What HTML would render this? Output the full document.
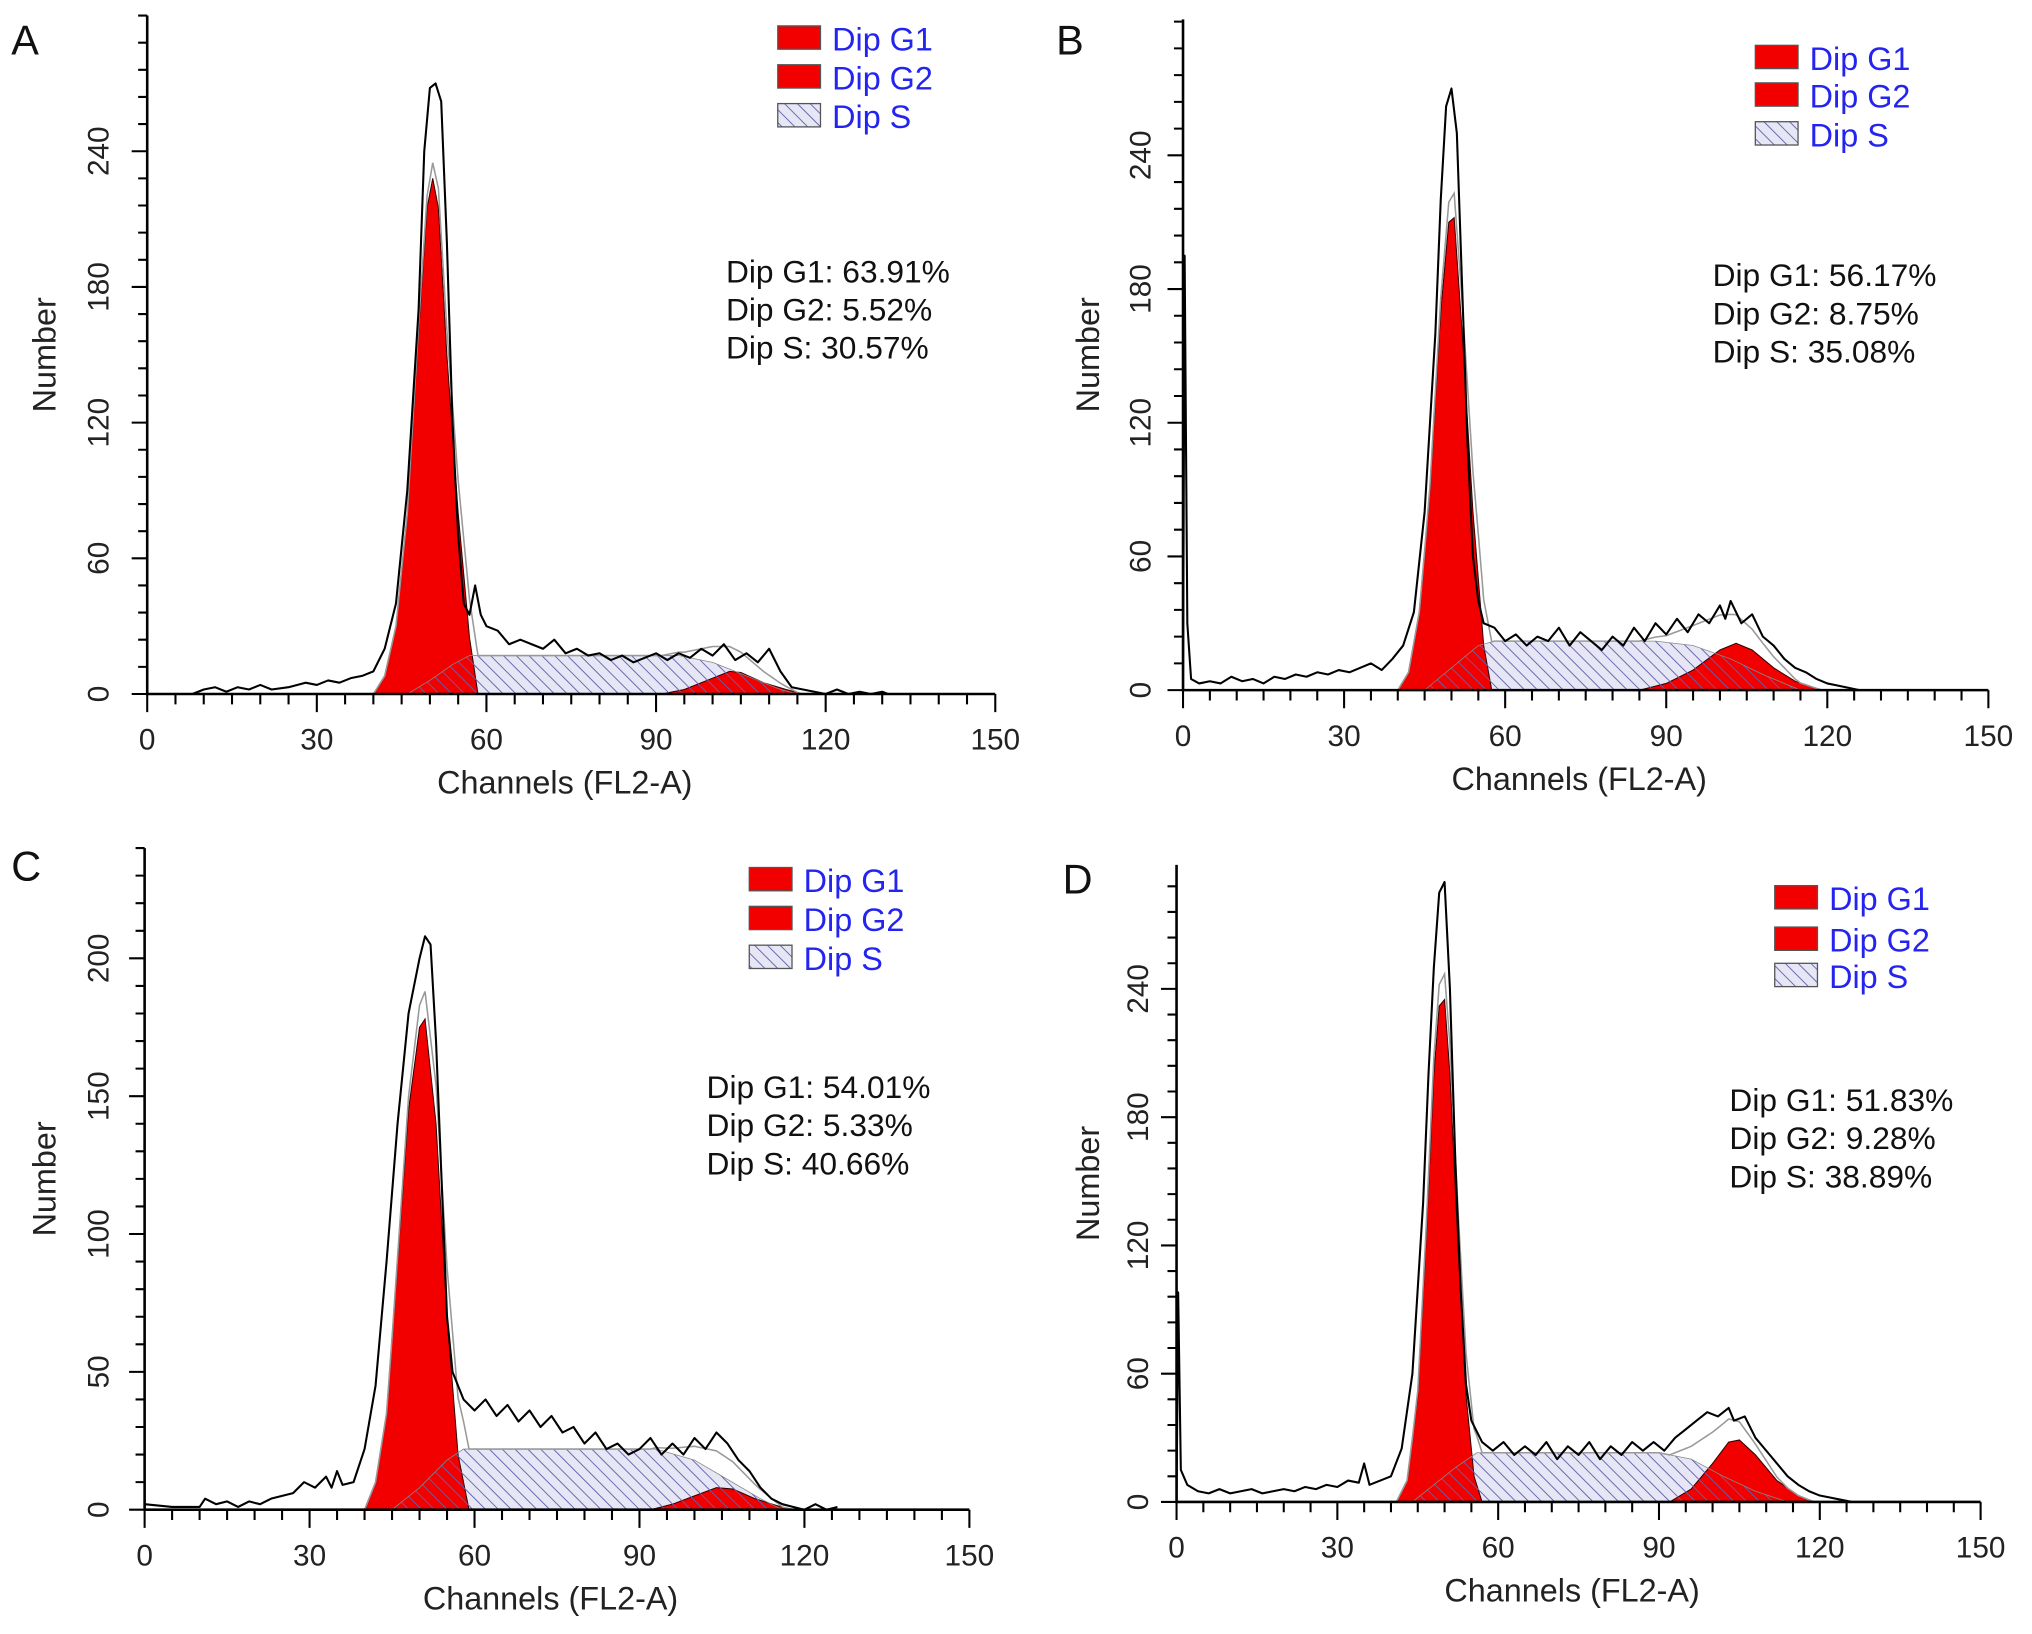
<!DOCTYPE html>
<html><head><meta charset="utf-8"><style>
html,body{margin:0;padding:0;background:#fff;}
svg{display:block;font-family:"Liberation Sans",Arial,sans-serif;}
</style></head><body>
<svg id="fig" width="2032" height="1634" viewBox="0 0 1568 1262" xmlns="http://www.w3.org/2000/svg">
<defs>
<pattern id="hatch" patternUnits="userSpaceOnUse" width="7" height="7" patternTransform="rotate(-45)">
<line x1="0" y1="0" x2="0" y2="7" stroke="#6060b0" stroke-width="1.4"/>
</pattern>
<pattern id="hatchbg" patternUnits="userSpaceOnUse" width="7" height="7" patternTransform="rotate(-45)">
<rect width="7" height="7" fill="#e6e6f4"/>
<line x1="0" y1="0" x2="0" y2="7" stroke="#6060b0" stroke-width="1.4"/>
</pattern>
</defs>
</svg>
<script>
// ---- data: raw histogram (channel, count) ----
const rawA=[[8,0],[10,2],[12,3],[14,1],[16,3],[18,2],[20,4],[22,2],[25,3],[28,5],[30,4],[32,6],[34,5],[36,7],[38,8],[40,10],[42,20],[44,40],[46,90],[48,170],[49,240],[50,268],[51,270],[52,262],[53,200],[54,120],[55,70],[56,40],[57,35],[58,48],[59,35],[60,30],[62,28],[64,22],[66,24],[68,22],[70,20],[72,24],[74,18],[76,20],[78,17],[80,18],[82,15],[84,17],[86,14],[88,16],[90,18],[92,15],[94,18],[96,16],[98,20],[100,17],[102,22],[104,15],[106,18],[108,14],[110,20],[112,10],[114,3],[116,2],[118,1],[120,0],[122,2],[124,0],[126,1],[128,0],[130,1],[131,0]];
const rawB=[[0,0],[0.3,195],[0.8,30],[1.5,5],[3,3],[5,4],[7,3],[9,6],[11,4],[13,5],[15,3],[17,6],[19,5],[21,7],[23,6],[25,8],[27,7],[29,9],[31,8],[33,10],[35,12],[37,9],[39,14],[41,20],[43,35],[45,80],[47,160],[48,220],[49,262],[50,270],[51,250],[52,180],[53,110],[54,60],[55,40],[56,30],[58,28],[60,22],[62,25],[64,20],[66,24],[68,22],[70,28],[72,20],[74,26],[76,22],[78,18],[80,24],[82,20],[84,28],[86,22],[88,30],[90,25],[92,32],[94,26],[96,34],[98,30],[100,38],[101,32],[102,40],[104,30],[106,34],[108,24],[110,20],[112,14],[114,10],[116,8],[118,5],[120,3],[122,2],[124,1],[126,0]];
const rawC=[[0,2],[5,1],[10,1],[11,4],[13,2],[15,3],[17,1],[19,3],[21,2],[23,4],[25,5],[27,6],[29,10],[31,8],[33,12],[34,8],[35,14],[36,9],[38,10],[40,22],[42,45],[44,90],[46,140],[48,180],[50,200],[51,208],[52,205],[53,170],[54,120],[55,70],[56,50],[58,40],[60,36],[62,40],[64,34],[66,38],[68,32],[70,36],[72,30],[74,34],[76,28],[78,30],[80,24],[82,28],[84,22],[86,24],[88,20],[90,22],[92,26],[94,20],[96,24],[98,20],[100,26],[102,22],[104,28],[106,24],[108,18],[110,14],[112,8],[114,4],[116,2],[118,1],[120,0],[122,2],[124,0],[126,1]];
const rawD=[[0,0],[0.3,98],[0.8,15],[2,8],[4,5],[6,4],[8,6],[10,4],[12,5],[14,6],[16,4],[18,5],[20,6],[22,5],[24,7],[26,6],[28,8],[30,7],[32,10],[34,9],[35,18],[36,8],[38,10],[40,12],[42,25],[44,60],[46,140],[47,200],[48,250],[49,285],[50,290],[51,240],[52,160],[53,100],[54,55],[55,38],[57,28],[59,24],[61,28],[63,22],[65,26],[67,22],[69,28],[71,20],[73,26],[75,22],[77,28],[79,20],[81,26],[83,22],[85,28],[87,24],[89,28],[91,24],[93,30],[95,34],[97,38],[99,42],[101,40],[103,44],[104,38],[106,40],[108,30],[110,24],[112,18],[114,12],[116,8],[118,5],[120,3],[122,2],[124,1],[126,0]];
// ---- model components ----
const g1A=[[40,0],[42,8],[44,30],[46,80],[48,160],[49.5,215],[50.5,228],[51.5,215],[53,150],[55,80],[57,25],[58.5,0]];
const sA=[[46,0],[50,6],[54,13],[57,17],[94,17],[100,14],[106,8],[112,2],[115,0]];
const g2A=[[91,0],[95,2],[99,6],[103,10],[105,9.5],[109,5],[113,2],[116,0]];
const g1B=[[40,0],[42,8],[44,35],[46,90],[48,170],[49.5,210],[50.5,212],[52,160],[54,80],[56,20],[57.5,0]];
const sB=[[45,0],[50,10],[55,20],[58,22],[88,22],[95,20],[102,14],[108,7],[115,0]];
const g2B=[[85,0],[90,3],[95,9],[100,18],[103,21],[106,18],[110,10],[114,4],[119,0]];
const g1C=[[40,0],[42,10],[44,35],[46,90],[48,145],[50,175],[51,178],[53,140],[55,70],[57,20],[59,0]];
const sC=[[45,0],[50,8],[55,18],[58,22],[93,22],[100,18],[106,11],[112,4],[116,0]];
const g2C=[[92,0],[96,2],[100,5],[104,8],[107,7.5],[111,4],[115,1.5],[118,0]];
const g1D=[[41,0],[43,10],[45,50],[46.5,120],[48,200],[49,232],[50,235],[51,200],[52.5,120],[54,50],[55.5,12],[57,0]];
const sD=[[44,0],[48,8],[52,16],[56,23],[90,23],[96,20],[102,12],[108,5],[114,0]];
const g2D=[[92,0],[96,6],[100,18],[103,28],[105,29],[108,22],[112,10],[116,3],[119,0]];
// ---- labels ----
const xTicks=[0,30,60,90,120,150];
const yTicksABD=[0,60,120,180,240];
const yTicksC=[0,50,100,150,200];
const statsA=["Dip G1: 63.91%","Dip G2: 5.52%","Dip S: 30.57%"];
const statsB=["Dip G1: 56.17%","Dip G2: 8.75%","Dip S: 35.08%"];
const statsC=["Dip G1: 54.01%","Dip G2: 5.33%","Dip S: 40.66%"];
const statsD=["Dip G1: 51.83%","Dip G2: 9.28%","Dip S: 38.89%"];
const legendLabels=["Dip G1","Dip G2","Dip S"];

const NS="http://www.w3.org/2000/svg";
const svg=document.getElementById('fig');
function mk(tag,attrs,parent){const e=document.createElementNS(NS,tag);for(const k in attrs)e.setAttribute(k,attrs[k]);(parent||svg).appendChild(e);return e;}
function interp(arr,x){if(x<=arr[0][0]||x>=arr[arr.length-1][0])return 0;for(let i=1;i<arr.length;i++){if(x<=arr[i][0]){const a=arr[i-1],b=arr[i];return a[1]+(b[1]-a[1])*(x-a[0])/(b[0]-a[0]);}}return 0;}

const panels=[
 {id:'a',letter:'A',lx:8,ly:42,x0:113,x1:768,y0:536,top:12,ymax:300,ticks:yTicksABD,minor:12,raw:rawA,g1:g1A,s:sA,g2:g2A,stats:statsA,sx:560,sy:218,legx:600,legy:[20,50,80],ylab:75,ntx:42},
 {id:'b',letter:'B',lx:815,ly:42,x0:913,x1:1535,y0:533,top:15,ymax:301,ticks:yTicksABD,minor:12,raw:rawB,g1:g1B,s:sB,g2:g2B,stats:statsB,sx:1322,sy:221,legx:1355,legy:[35,64,94],ylab:880,ntx:848},
 {id:'c',letter:'C',lx:8,ly:680,x0:111,x1:748,y0:1166,top:655,ymax:240,ticks:yTicksC,minor:10,raw:rawC,g1:g1C,s:sC,g2:g2C,stats:statsC,sx:545,sy:848,legx:578,legy:[670,700,730],ylab:75,ntx:42},
 {id:'d',letter:'D',lx:820,ly:690,x0:908,x1:1529,y0:1160,top:668,ymax:298,ticks:yTicksABD,minor:12,raw:rawD,g1:g1D,s:sD,g2:g2D,stats:statsD,sx:1335,sy:858,legx:1370,legy:[684,716,744],ylab:878,ntx:848}
];

panels.forEach(p=>{
 const g=mk('g',{});
 
 
 const X=v=>p.x0+(p.x1-p.x0)*v/150;
 const Y=v=>p.y0-(p.y0-p.top)*v/p.ymax;
 const area=(arr)=>{let d='M'+X(arr[0][0])+','+Y(0);arr.forEach(q=>d+=' L'+X(q[0]).toFixed(2)+','+Y(q[1]).toFixed(2));d+=' L'+X(arr[arr.length-1][0])+','+Y(0)+' Z';return d;};
 const sbg=mk('path',{d:area(p.s),fill:'#e6e6f4',stroke:'none'},g);
 
 
 const g1=mk('path',{d:area(p.g1),fill:'#f20000',stroke:'#300',"stroke-width":0.8},g);
 
 
 const g2=mk('path',{d:area(p.g2),fill:'#f20000',stroke:'#300',"stroke-width":0.8},g);
 
 
 const s=mk('path',{d:area(p.s),fill:'url(#hatch)',stroke:'#888',"stroke-width":0.6},g);
 
 
 let lo=Math.min(p.g1[0][0],p.s[0][0]),hi=Math.max(p.g2[p.g2.length-1][0],p.s[p.s.length-1][0]);
 let fd='';for(let x=lo;x<=hi;x+=0.5){const v=interp(p.g1,x)+interp(p.s,x)+interp(p.g2,x);fd+=(fd?' L':'M')+X(x).toFixed(2)+','+Y(v).toFixed(2);}
 const fit=mk('path',{d:fd,fill:'none',stroke:'#999',"stroke-width":1.2},g);
 
 
 let rd='';p.raw.forEach(q=>rd+=(rd?' L':'M')+X(q[0]).toFixed(2)+','+Y(q[1]).toFixed(2));
 const raw=mk('path',{d:rd,fill:'none',stroke:'#000',"stroke-width":1.6,"stroke-linejoin":"round"},g);
 
 
 const ax=mk('path',{d:`M${p.x0},${p.top} L${p.x0},${p.y0} L${p.x1},${p.y0}`,fill:'none',stroke:'#000',"stroke-width":2},g);
 
 
 let td='';
 for(let v=0;v<=150;v+=5){const L=(v%30===0)?14:8;td+=`M${X(v)},${p.y0} L${X(v)},${p.y0+L} `;}
 for(let v=0;v<=p.ymax;v+=p.minor){const major=p.ticks.includes(v);td+=`M${p.x0},${Y(v)} L${p.x0-(major?12:7)},${Y(v)} `;}
 mk('path',{d:td,stroke:'#000',"stroke-width":1.6,fill:'none'},g);
 xTicks.forEach(v=>{const t=mk('text',{x:X(v),y:p.y0+43,"text-anchor":"middle","font-size":23,fill:'#222'},g);t.textContent=v;
  
  });
 p.ticks.forEach(v=>{const t=mk('text',{x:0,y:0,"text-anchor":"middle","font-size":23,fill:'#222',transform:`translate(${p.ylab+8},${Y(v)}) rotate(-90)`},g);t.textContent=v;
  
  });
 const xt=mk('text',{x:(p.x0+p.x1)/2-5,y:p.y0+77,"text-anchor":"middle","font-size":25,fill:'#222'},g);xt.textContent='Channels (FL2-A)';
 
 
 const yt=mk('text',{x:0,y:0,"text-anchor":"middle","font-size":25,fill:'#222',transform:`translate(${p.ntx},${(p.top+p.y0)/2}) rotate(-90)`},g);yt.textContent='Number';
 
 
 const pl=mk('text',{x:p.lx,y:p.ly,"font-size":32,fill:'#111'},g);pl.textContent=p.letter;
 
 
 p.stats.forEach((s2,i)=>{const t=mk('text',{x:p.sx,y:p.sy+i*29.5,"font-size":24.5,fill:'#111'},g);t.textContent=s2;
  
  });
 legendLabels.forEach((lab,i)=>{
  const r=mk('rect',{x:p.legx,y:p.legy[i],width:33,height:18,fill:i<2?'#f20000':'url(#hatchbg)',stroke:'#555',"stroke-width":1},g);
  
  
  const t=mk('text',{x:p.legx+42,y:p.legy[i]+19,"font-size":25,fill:'#2424f0'},g);t.textContent=lab;
  
  
 });
});
</script>
</body></html>
